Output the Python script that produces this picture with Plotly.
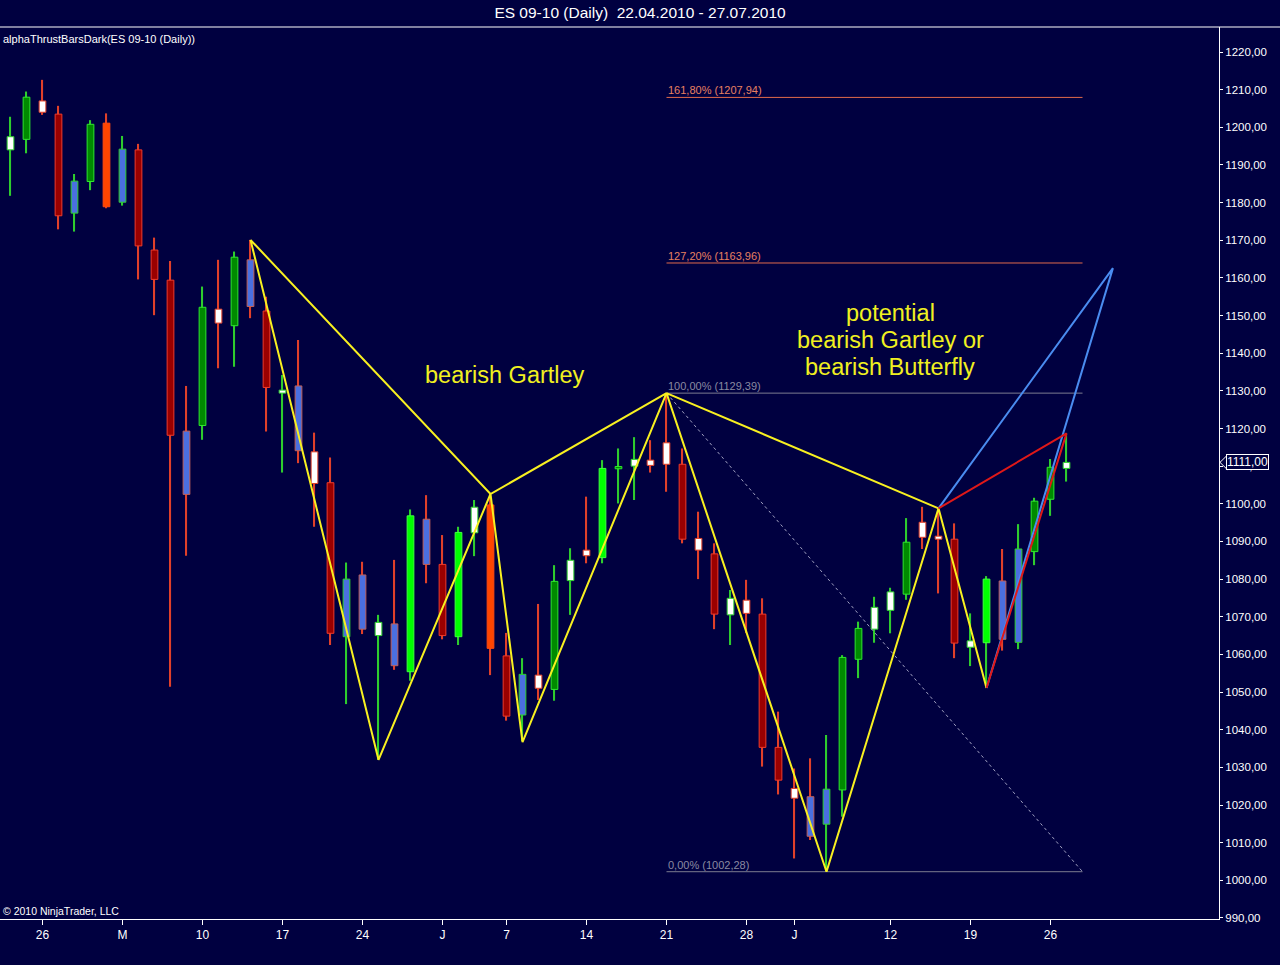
import plotly.graph_objects as go

# ---------------- data ----------------
dates = ["2010-04-22", "2010-04-23", "2010-04-26", "2010-04-27", "2010-04-28", "2010-04-29", "2010-04-30",
         "2010-05-03", "2010-05-04", "2010-05-05", "2010-05-06", "2010-05-07",
         "2010-05-10", "2010-05-11", "2010-05-12", "2010-05-13", "2010-05-14",
         "2010-05-17", "2010-05-18", "2010-05-19", "2010-05-20", "2010-05-21",
         "2010-05-24", "2010-05-25", "2010-05-26", "2010-05-27", "2010-05-28",
         "2010-06-01", "2010-06-02", "2010-06-03", "2010-06-04",
         "2010-06-07", "2010-06-08", "2010-06-09", "2010-06-10", "2010-06-11",
         "2010-06-14", "2010-06-15", "2010-06-16", "2010-06-17", "2010-06-18",
         "2010-06-21", "2010-06-22", "2010-06-23", "2010-06-24", "2010-06-25",
         "2010-06-28", "2010-06-29", "2010-06-30", "2010-07-01", "2010-07-02",
         "2010-07-06", "2010-07-07", "2010-07-08", "2010-07-09",
         "2010-07-12", "2010-07-13", "2010-07-14", "2010-07-15", "2010-07-16",
         "2010-07-19", "2010-07-20", "2010-07-21", "2010-07-22", "2010-07-23",
         "2010-07-26", "2010-07-27"]

opens = [1194.0, 1196.8, 1207.0, 1203.5, 1177.2, 1185.6, 1201.1, 1180.1, 1194.0, 1167.4,
         1159.4, 1119.3, 1120.8, 1151.7, 1147.3, 1164.8, 1151.2, 1129.4, 1131.3, 1113.8,
         1105.6, 1064.7, 1081.1, 1065.0, 1068.1, 1055.4, 1095.9, 1083.9, 1064.7, 1092.3,
         1099.7, 1059.6, 1043.9, 1054.5, 1050.7, 1079.6, 1087.7, 1085.7, 1109.3, 1110.0,
         1111.6, 1116.2, 1110.5, 1090.8, 1086.7, 1070.5, 1074.4, 1070.7, 1035.3, 1024.4,
         1022.2, 1014.9, 1024.0, 1058.7, 1066.7, 1071.7, 1076.0, 1095.1, 1091.4, 1090.6,
         1061.9, 1063.1, 1079.5, 1063.2, 1087.3, 1101.2, 1109.4]
highs = [1202.8, 1209.5, 1212.6, 1205.7, 1187.6, 1201.9, 1203.7, 1197.7, 1195.6, 1170.7,
         1164.5, 1131.3, 1157.7, 1164.8, 1167.0, 1170.1, 1155.0, 1134.2, 1143.5, 1118.9,
         1112.3, 1084.4, 1084.6, 1070.5, 1085.1, 1098.5, 1102.3, 1091.7, 1093.9, 1101.0,
         1102.6, 1065.7, 1059.0, 1073.4, 1083.7, 1088.2, 1101.9, 1111.6, 1114.7, 1117.7,
         1116.9, 1129.4, 1114.7, 1097.9, 1089.5, 1077.1, 1079.8, 1074.9, 1044.8, 1029.7,
         1032.4, 1038.6, 1059.8, 1068.7, 1075.3, 1077.7, 1096.2, 1099.2, 1098.8, 1094.8,
         1070.9, 1080.8, 1088.0, 1094.6, 1101.6, 1111.9, 1118.7]
lows = [1181.8, 1193.1, 1203.3, 1172.9, 1172.3, 1183.3, 1178.5, 1179.2, 1159.6, 1150.1,
        1051.4, 1086.2, 1117.0, 1136.0, 1136.4, 1149.3, 1119.2, 1108.3, 1110.8, 1093.9,
        1062.5, 1046.8, 1065.4, 1032.0, 1055.9, 1053.0, 1078.9, 1064.0, 1062.5, 1086.1,
        1054.5, 1042.4, 1037.0, 1047.9, 1047.7, 1070.5, 1084.2, 1084.2, 1100.1, 1101.0,
        1108.3, 1103.2, 1089.5, 1080.0, 1066.7, 1062.5, 1065.7, 1030.2, 1022.8, 1005.8,
        1010.7, 1002.3, 1016.9, 1053.7, 1063.1, 1065.6, 1074.5, 1088.0, 1076.2, 1059.0,
        1056.9, 1051.1, 1061.0, 1061.4, 1083.7, 1096.8, 1105.9]
closes = [1197.5, 1208.0, 1204.0, 1176.5, 1185.7, 1200.8, 1178.9, 1194.2, 1168.5, 1159.6,
          1118.2, 1102.5, 1152.2, 1148.0, 1165.5, 1152.4, 1130.9, 1130.2, 1114.1, 1105.4,
          1065.6, 1080.0, 1066.7, 1068.5, 1057.0, 1096.8, 1083.9, 1065.0, 1092.4, 1099.1,
          1061.6, 1043.6, 1054.7, 1051.0, 1079.4, 1085.0, 1086.2, 1109.4, 1109.9, 1111.8,
          1110.2, 1110.5, 1090.6, 1087.7, 1070.7, 1074.9, 1070.9, 1035.3, 1026.6, 1021.8,
          1011.7, 1024.2, 1059.2, 1066.9, 1072.5, 1076.6, 1089.8, 1091.1, 1090.6, 1063.0,
          1063.6, 1080.0, 1064.0, 1088.0, 1100.7, 1109.7, 1111.0]
# bar style code (alphaThrustBars colouring)
styles = ["wg", "dg", "wr", "dr", "bg", "dg", "or", "bg", "dr", "dr",
          "dr", "br", "dg", "wr", "dg", "br", "dr", "wg", "br", "wr",
          "dr", "bg", "br", "wg", "br", "lm", "br", "dr", "lm", "wg",
          "or", "dr", "bg", "wr", "dg", "wg", "wr", "lm", "dg", "wg",
          "wr", "wr", "dr", "wr", "dr", "wg", "wr", "dr", "dr", "wr",
          "br", "bg", "dg", "dg", "wg", "wg", "dg", "wr", "wr", "dr",
          "wg", "lm", "br", "bg", "dg", "dg", "wg"]

tick_dates = ["2010-04-26", "2010-05-03", "2010-05-10", "2010-05-17", "2010-05-24", "2010-06-01",
              "2010-06-07", "2010-06-14", "2010-06-21", "2010-06-28", "2010-07-01", "2010-07-12",
              "2010-07-19", "2010-07-26"]
tick_text = ["26", "M", "10", "17", "24", "J", "7", "14", "21", "28", "J", "12", "19", "26"]

price_ticks = list(range(990, 1221, 10))

# harmonic pattern pivots (bar index, price)
gartley_idx = [15, 23, 30, 32, 41, 30, 15]
gartley_px = [1170.1, 1032.0, 1102.6, 1036.7, 1129.39, 1102.6, 1170.1]
potential_idx = [61, 58, 51, 41, 58]
potential_px = [1051.1, 1098.8, 1002.28, 1129.39, 1098.8]
red_idx = [58, 66, 61]
red_px = [1098.8, 1118.7, 1051.1]
blue_idx = [58, 68.9, 61]
blue_px = [1098.8, 1162.6, 1051.1]

fib_labels = ["161,80%", "127,20%", "100,00%", "0,00%"]
fib_values = [1207.94, 1163.96, 1129.39, 1002.28]
fib_start, fib_end = 41, 67
last_price = 1111.00

note_lines = ["potential", "bearish Gartley or", "bearish Butterfly"]

# ---------------- styling ----------------
BG = "#000040"
FONT = "Liberation Sans, Arial"
fill_map = {"dg": "#008a00", "lm": "#00ff00", "wg": "#ffffff", "wr": "#ffffff",
            "dr": "#9a0000", "or": "#ff4500", "bg": "#4a6fe0", "br": "#4a6fe0"}
line_map = {"dg": "#2ee82e", "lm": "#40ff40", "wg": "#2ed02e", "wr": "#e0402a",
            "dr": "#f03a2a", "or": "#ff4a10", "bg": "#2ed02e", "br": "#c0605a"}
wick_map = {"dg": "#2ecc2e", "lm": "#2ecc2e", "wg": "#2ecc2e", "bg": "#2ecc2e",
            "wr": "#e0402a", "dr": "#e0402a", "or": "#e0402a", "br": "#e0402a"}
fib_color = {"161,80%": "#e06a4a", "127,20%": "#e06a4a", "100,00%": "#7c7c90", "0,00%": "#7c7c90"}
fib_text_color = {"161,80%": "#e88060", "127,20%": "#e88060", "100,00%": "#8a8aa0", "0,00%": "#8a8aa0"}

idx = list(range(len(dates)))

fig = go.Figure()

# wicks
fig.add_trace(go.Bar(
    x=idx, base=lows, y=[h - l for h, l in zip(highs, lows)],
    width=0.07, marker=dict(color=[wick_map[s] for s in styles], line=dict(width=0)),
    hoverinfo="skip", showlegend=False))
# bodies
fig.add_trace(go.Bar(
    x=idx, base=opens,
    y=[(c - o) if abs(c - o) > 0.3 else 0.6 * (1 if c >= o else -1) for o, c in zip(opens, closes)],
    width=0.42,
    marker=dict(color=[fill_map[s] for s in styles],
                line=dict(color=[line_map[s] for s in styles], width=1)),
    hoverinfo="skip", showlegend=False))

# fib levels
for lab, val in zip(fib_labels, fib_values):
    fig.add_trace(go.Scatter(x=[fib_start, fib_end], y=[val, val], mode="lines",
                             line=dict(color=fib_color[lab], width=1),
                             hoverinfo="skip", showlegend=False))
    fig.add_annotation(x=fib_start, y=val, xref="x", yref="y", xanchor="left", yanchor="bottom",
                       text=f"{lab} ({val:.2f})".replace(".", ","), showarrow=False,
                       font=dict(family=FONT, size=11, color=fib_text_color[lab]),
                       xshift=-1, yshift=-1)
# dotted diagonal of fib tool
fig.add_trace(go.Scatter(x=[fib_start, fib_end], y=[fib_values[2], fib_values[3]], mode="lines",
                         line=dict(color="#a0a0c0", width=1, dash="dot"),
                         hoverinfo="skip", showlegend=False))

# patterns
fig.add_trace(go.Scatter(x=gartley_idx, y=gartley_px, mode="lines",
                         line=dict(color="#f8f020", width=2), hoverinfo="skip", showlegend=False))
fig.add_trace(go.Scatter(x=potential_idx, y=potential_px, mode="lines",
                         line=dict(color="#f8f020", width=2), hoverinfo="skip", showlegend=False))
fig.add_trace(go.Scatter(x=blue_idx, y=blue_px, mode="lines",
                         line=dict(color="#4a8cf0", width=2), hoverinfo="skip", showlegend=False))
fig.add_trace(go.Scatter(x=red_idx, y=red_px, mode="lines",
                         line=dict(color="#e01818", width=2), hoverinfo="skip", showlegend=False))

# text annotations
fig.add_annotation(x=30.9, y=1134.2, text="bearish Gartley", showarrow=False,
                   font=dict(family=FONT, size=23.5, color="#f0f020"))
for k, line in enumerate(note_lines):
    fig.add_annotation(x=54.97, y=1143.5, text=line, showarrow=False, yshift=(1 - k) * 27,
                       font=dict(family=FONT, size=23.5, color="#f0f020"))

fig.add_annotation(xref="paper", yref="paper", x=0.0, y=1.0, xanchor="left", yanchor="top",
                   xshift=1, yshift=-4, text="alphaThrustBarsDark(ES 09-10 (Daily))", showarrow=False,
                   font=dict(family=FONT, size=11, color="#ffffff"))
fig.add_annotation(xref="paper", yref="paper", x=0.0, y=0.0, xanchor="left", yanchor="bottom",
                   xshift=1, yshift=0, text="© 2010 NinjaTrader, LLC", showarrow=False,
                   font=dict(family=FONT, size=10.5, color="#ffffff"))

# last price marker
fig.add_annotation(xref="paper", yref="y", x=1.0, y=last_price, xanchor="left", xshift=7,
                   text=f"{last_price:.2f}".replace(".", ","), showarrow=False,
                   font=dict(family=FONT, size=12, color="#ffffff"),
                   bgcolor=BG, bordercolor="#ffffff", borderwidth=1, borderpad=0)
fig.add_shape(type="path", xref="paper", yref="y",
              path=f"M 1.0008,{last_price} L 1.0068,{last_price + 1.9} L 1.0068,{last_price - 1.9} Z",
              fillcolor=BG, line=dict(color="#ffffff", width=1))

# top border line
fig.add_shape(type="line", xref="paper", yref="paper", x0=0, x1=1280 / 1219, y0=1, y1=1,
              line=dict(color="#ffffff", width=1))

fig.update_layout(
    width=1280, height=965,
    margin=dict(l=0, r=61, t=27, b=46, autoexpand=False),
    paper_bgcolor=BG, plot_bgcolor=BG,
    barmode="overlay",
    title=dict(text="ES 09-10 (Daily)  22.04.2010 - 27.07.2010", x=0.5, xref="container",
               y=1 - 13 / 965, yref="container", yanchor="middle", xanchor="center",
               font=dict(family=FONT, size=15.5, color="#ffffff")),
    showlegend=False,
    xaxis=dict(range=[-0.656, 75.53], showgrid=False, zeroline=False,
               tickvals=[dates.index(d) for d in tick_dates], ticktext=tick_text,
               ticks="outside", ticklen=5, tickcolor="#ffffff", showline=True, linecolor="#ffffff",
               tickfont=dict(family=FONT, size=12, color="#ffffff"),
               fixedrange=True),
    yaxis=dict(range=[989.72, 1226.64], side="right", showgrid=False, zeroline=False,
               tickvals=price_ticks, ticktext=[f"{p},00" for p in price_ticks],
               ticks="outside", ticklen=3, tickcolor="#ffffff", showline=True, linecolor="#ffffff",
               tickfont=dict(family=FONT, size=11.5, color="#ffffff"),
               fixedrange=True),
)

fig.write_html("out.html", config={"displayModeBar": False},
               post_script="document.body.style.margin='0';document.body.style.background='#000040';"
                           "document.body.style.overflow='hidden';")
